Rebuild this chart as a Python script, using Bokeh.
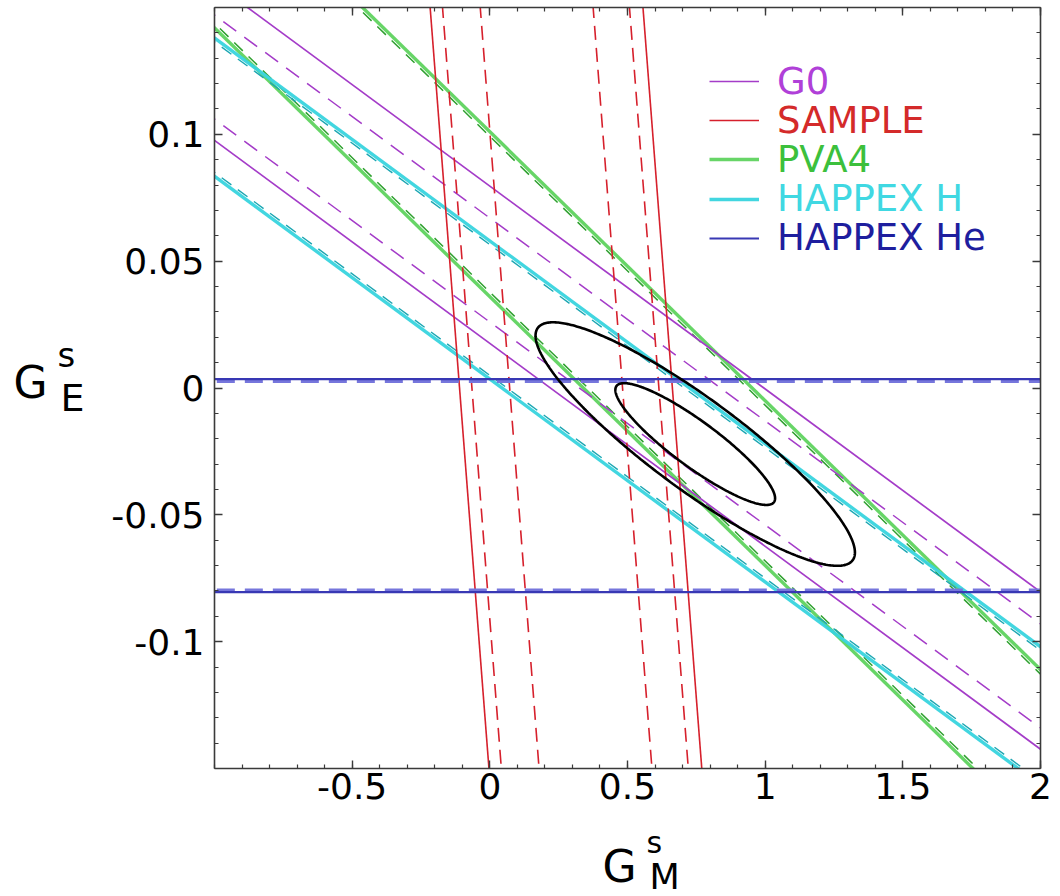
import numpy as np
from bokeh.plotting import figure
from bokeh.models import Range1d, LinearAxis, FixedTicker, Label, Legend, LegendItem
from bokeh.layouts import column, row
from bokeh.embed import file_html
from bokeh.resources import INLINE

# ---------------- data ----------------
X_LIMITS = [-1.0, 2.0]
Y_LIMITS = [-0.15, 0.15]
x_ticks = [-0.5, 0.0, 0.5, 1.0, 1.5, 2.0]
x_tick_labels = ["-0.5", "0", "0.5", "1", "1.5", "2"]
y_ticks = [-0.1, -0.05, 0.0, 0.05, 0.1]
y_tick_labels = ["-0.1", "-0.05", "0", "0.05", "0.1"]

experiments = ["G0", "SAMPLE", "PVA4", "HAPPEX H", "HAPPEX He"]

# bands of the form  G_E^s + eta * G_M^s = c   (lower c, upper c)
g0_eta = 0.080
g0_solid = [0.0176, 0.0796]
g0_dashed = [0.026, 0.067]

pva4_eta = 0.106
pva4_solid = [0.036, 0.101]
pva4_dashed = [0.0378, 0.0992]

happex_h_eta = 0.080
happex_h_solid = [0.0035, 0.058]
happex_h_dashed = [0.0050, 0.0565]

happex_he_eta = 0.0
happex_he_solid = [-0.0805, 0.0035]
happex_he_dashed = [-0.0798, 0.0028]

# SAMPLE band:  G_M^s + k * G_E^s = c   (lower c, upper c)
sample_k = 0.712
sample_solid = [-0.110, 0.663]
sample_dashed = [-0.065, 0.614]
sample_dashed_inner = [0.072, 0.482]

# combined fit (G_M^s, G_E^s)
fit_center = [0.746, -0.0221]
fit_sigma = [0.290, 0.0240]
fit_rho = -0.89
fit_levels = [1.0, 2.0]

# ---------------- layout constants ----------------
FONT = "DejaVu Sans"
W, H = 1060, 896
LEFT_W = 108          # strip holding the y title
TOP_H = 814           # height of the plot row; the rest holds the x title
FRAME_LEFT, FRAME_RIGHT, FRAME_TOP, FRAME_BOTTOM = 212, 1040, 7, 768

p = figure(width=W - LEFT_W, height=TOP_H, output_backend="svg", toolbar_location=None,
           x_range=Range1d(*X_LIMITS), y_range=Range1d(*Y_LIMITS),
           min_border_left=FRAME_LEFT - LEFT_W, min_border_right=W - FRAME_RIGHT,
           min_border_top=FRAME_TOP, min_border_bottom=TOP_H - FRAME_BOTTOM)
p.grid.visible = False
p.outline_line_color = None
p.background_fill_color = "white"
p.border_fill_color = "white"

x_minor = [float(v) for v in np.round(np.arange(X_LIMITS[0], X_LIMITS[1] + 1e-9, 0.1), 3)]
y_minor = [float(v) for v in np.round(np.arange(Y_LIMITS[0], Y_LIMITS[1] + 1e-9, 0.01), 3)]
xtick = FixedTicker(ticks=x_ticks, minor_ticks=x_minor)
ytick = FixedTicker(ticks=y_ticks, minor_ticks=y_minor)

def style_axis(ax, ticker, labels, show):
    ax.ticker = ticker
    ax.major_tick_in = 8
    ax.major_tick_out = 0
    ax.minor_tick_in = 4
    ax.minor_tick_out = 0
    ax.axis_line_color = "#3a3a3a"
    ax.axis_line_width = 1.6
    ax.major_tick_line_color = "#3a3a3a"
    ax.minor_tick_line_color = "#3a3a3a"
    ax.major_tick_line_width = 1.4
    ax.minor_tick_line_width = 1.2
    if show:
        ax.major_label_overrides = {t: l for t, l in zip(ticker.ticks, labels)}
        ax.major_label_text_font = FONT
        ax.major_label_text_font_size = "36px"
        ax.major_label_text_color = "black"
    else:
        ax.major_label_text_font_size = "1px"
        ax.major_label_text_color = None
        ax.major_label_standoff = 0

style_axis(p.xaxis[0], xtick, x_tick_labels, True)
style_axis(p.yaxis[0], ytick, y_tick_labels, True)
p.xaxis[0].major_label_standoff = 4
p.yaxis[0].major_label_standoff = 10

top_ax = LinearAxis()
right_ax = LinearAxis()
style_axis(top_ax, xtick, None, False)
style_axis(right_ax, ytick, None, False)
p.add_layout(top_ax, "above")
p.add_layout(right_ax, "right")

GM_SPAN = np.array([X_LIMITS[0] - 0.5, X_LIMITS[1] + 0.5])
GE_SPAN = np.array([Y_LIMITS[0] - 0.05, Y_LIMITS[1] + 0.05])

def band(eta, cs):
    xs, ys = [], []
    for c in cs:
        xs.append(list(GM_SPAN))
        ys.append(list(c - eta * GM_SPAN))
    return xs, ys

def sample_band(k, cs):
    xs, ys = [], []
    for c in cs:
        xs.append(list(c - k * GE_SPAN))
        ys.append(list(GE_SPAN))
    return xs, ys

C_G0 = "#a43cc8"
C_SAMPLE = "#d6202c"
C_PVA4 = "#56d056"
C_HH = "#38d4de"
C_HHE = "#3838b4"

# PVA4
xs, ys = band(pva4_eta, pva4_solid)
r_pva4 = p.multi_line(xs, ys, line_color=C_PVA4, line_width=3.4, line_alpha=0.9)
xs, ys = band(pva4_eta, pva4_dashed)
p.multi_line(xs, ys, line_color="#2fa02f", line_width=1.5, line_dash="12 8")

# HAPPEX H
xs, ys = band(happex_h_eta, happex_h_solid)
r_hh = p.multi_line(xs, ys, line_color=C_HH, line_width=3.4, line_alpha=0.95)
xs, ys = band(happex_h_eta, happex_h_dashed)
p.multi_line(xs, ys, line_color="#1ca6b2", line_width=1.4, line_dash="12 8")

# G0
xs, ys = band(g0_eta, g0_solid)
r_g0 = p.multi_line(xs, ys, line_color=C_G0, line_width=1.7)
xs, ys = band(g0_eta, g0_dashed)
p.multi_line(xs, ys, line_color=C_G0, line_width=1.5, line_dash="16 10")

# SAMPLE
xs, ys = sample_band(sample_k, sample_solid)
r_sample = p.multi_line(xs, ys, line_color=C_SAMPLE, line_width=1.6)
xs, ys = sample_band(sample_k, sample_dashed)
p.multi_line(xs, ys, line_color=C_SAMPLE, line_width=1.6, line_dash="14 8")
xs, ys = sample_band(sample_k, sample_dashed_inner)
p.multi_line(xs, ys, line_color=C_SAMPLE, line_width=1.6, line_dash="14 8")

# HAPPEX He
xs, ys = band(happex_he_eta, happex_he_dashed)
p.multi_line(xs, ys, line_color="#7676dc", line_width=4, line_dash="18 10")
xs, ys = band(happex_he_eta, happex_he_solid)
r_hhe = p.multi_line(xs, ys, line_color=C_HHE, line_width=2.2)

# combined fit contours
t = np.linspace(0, 2 * np.pi, 361)
ex, ey = [], []
for lev in fit_levels:
    ex.append(list(fit_center[0] + lev * fit_sigma[0] * np.cos(t)))
    ey.append(list(fit_center[1] + lev * fit_sigma[1] *
                   (fit_rho * np.cos(t) + np.sqrt(1 - fit_rho ** 2) * np.sin(t))))
p.multi_line(ex, ey, line_color="black", line_width=2.6)

# ---------------- legend (one per entry, own text colour) ----------------
leg_renderers = [r_g0, r_sample, r_pva4, r_hh, r_hhe]
leg_text_colors = ["#b040d8", "#d42a2a", "#3cc03c", "#40d8e2", "#1e1e9e"]
for i, (name, rr, col) in enumerate(zip(experiments, leg_renderers, leg_text_colors)):
    row_center = 81 + i * 39.2
    hh = 44
    lg = Legend(items=[LegendItem(label=name, renderers=[rr])],
                location=(707 - FRAME_LEFT, FRAME_BOTTOM - row_center - hh / 2),
                padding=0, margin=0, spacing=0,
                glyph_width=50, glyph_height=hh, label_height=hh, label_width=20,
                label_standoff=18,
                label_text_font=FONT, label_text_font_size="37px",
                label_text_color=col, label_text_baseline="middle",
                border_line_alpha=0, background_fill_alpha=0)
    p.add_layout(lg)

# ---------------- axis titles (in their own strips, canvas-pixel ranges) ----------------
def strip(width, height, x0, y0):
    f = figure(width=width, height=height, output_backend="svg", toolbar_location=None,
               x_range=Range1d(x0, x0 + width), y_range=Range1d(y0 + height, y0),
               x_axis_type=None, y_axis_type=None, title=None,
               min_border=0, min_border_left=0, min_border_right=0,
               min_border_top=0, min_border_bottom=0)
    f.grid.visible = False
    f.outline_line_color = None
    f.background_fill_color = "white"
    f.border_fill_color = "white"
    return f

def lab(f, text, x, y, size):
    f.add_layout(Label(x=x, y=y, text=text, text_font=FONT, text_font_size=size,
                       text_color="black", text_align="left", text_baseline="alphabetic"))

left_fig = strip(LEFT_W, TOP_H, 0, 0)
lab(left_fig, "G", 13, 401, "44px")
lab(left_fig, "E", 60, 418, "38px")
lab(left_fig, "s", 57, 372, "34px")

bottom_fig = strip(W, H - TOP_H, 0, TOP_H)
lab(bottom_fig, "G", 602, 866, "44px")
lab(bottom_fig, "M", 649, 876, "35px")
lab(bottom_fig, "s", 646, 842, "30px")

layout = column(row(left_fig, p, spacing=0), bottom_fig, spacing=0)
open("out.html", "w").write(file_html(layout, INLINE))
